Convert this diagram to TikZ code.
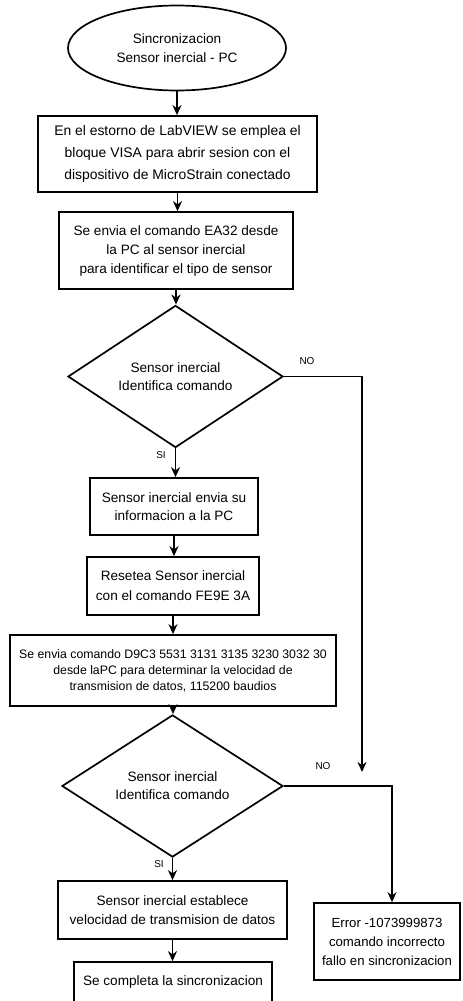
\documentclass[tikz,border=0pt]{standalone}
\usepackage{fontspec}
\setmainfont{Liberation Sans}
\usetikzlibrary{shapes.geometric,arrows.meta,calc}
\begin{document}
\begin{tikzpicture}[x=1pt,y=-1pt,
  every node/.style={font=\fontsize{13.6}{19}\selectfont, align=center},
  proc/.style={draw, line width=1.7pt, rectangle, inner sep=0pt},
  term/.style={draw, line width=1.7pt, ellipse, inner sep=0pt},
  decis/.style={draw, line width=1.7pt, diamond, inner sep=0pt},
  conn/.style={line width=1.7pt, -{Stealth[length=10pt,width=9pt]}},
  lbl/.style={font=\fontsize{10}{11}\selectfont, inner sep=0pt}]
\useasboundingbox (0,0) rectangle (463,1001);
\clip (0,0) rectangle (463,1001);
\node[term, minimum width=218pt, minimum height=85pt] (start) at (177,48) {Sincronizacion\\Sensor inercial - PC};
\node[proc, minimum width=279pt, minimum height=76pt, font=\fontsize{13.9}{22}\selectfont] (b1) at (177.5,154) {En el estorno de LabVIEW se emplea el\\bloque VISA para abrir sesion con el\\dispositivo de MicroStrain conectado};
\node[proc, minimum width=234pt, minimum height=77pt] (b2) at (176,250.5) {Se envia el comando EA32 desde\\la PC al sensor inercial\\para identificar el tipo de sensor};
\node[decis, minimum width=215pt, minimum height=129pt, font=\fontsize{13.6}{18}\selectfont] (d1) at (175.5,376.5) {Sensor inercial\\Identifica comando};
\node[proc, minimum width=168pt, minimum height=57pt, font=\fontsize{13.6}{18}\selectfont] (b3) at (174,506.5) {Sensor inercial envia su\\informacion a la PC};
\node[proc, minimum width=172pt, minimum height=58pt, font=\fontsize{13.6}{20}\selectfont] (b4) at (173,586) {Resetea Sensor inercial\\con el comando FE9E 3A};
\node[proc, minimum width=326pt, minimum height=71pt, font=\fontsize{12.3}{16}\selectfont] (b5) at (173,670.5) {Se envia comando D9C3 5531 3131 3135 3230 3032 30\\desde laPC para determinar la velocidad de\\transmision de datos, 115200 baudios};
\node[decis, minimum width=221pt, minimum height=122pt, font=\fontsize{13.6}{18}\selectfont] (d2) at (172.5,786) {Sensor inercial\\Identifica comando};
\node[proc, minimum width=229pt, minimum height=58pt] (b6) at (172.5,910) {Sensor inercial establece\\velocidad de transmision de datos};
\node[proc, minimum width=198pt, minimum height=40pt] (b7) at (173,982) {Se completa la sincronizacion};
\node[proc, minimum width=146pt, minimum height=77pt, font=\fontsize{13.2}{19}\selectfont] (err) at (387,941.5) {Error -1073999873\\comando incorrecto\\fallo en sincronizacion};
\coordinate (n1) at (362,772);
\draw[conn] (start.south) -- (start.south |- b1.north);
\draw[conn] (b1.south) -- (b1.south |- b2.north);
\draw[conn] (b2.south) -- (b2.south |- d1.north);
\draw[conn] (d1.south) -- (d1.south |- b3.north);
\draw[conn] (b3.south) -- (b3.south |- b4.north);
\draw[conn] (b4.south) -- (b4.south |- b5.north);
\draw[conn] (b5.south) -- (b5.south |- d2.north);
\draw[conn] (d2.south) -- (d2.south |- b6.north);
\draw[conn] (b6.south) -- (b6.south |- b7.north);
\draw[conn] (d1.east) -| (n1);
\draw[conn] (d2.east) -| ([xshift=5pt]err.north);
\node[lbl] (no1) at (307,361) {NO};
\node[lbl] (no2) at (323,766) {NO};
\node[lbl] (si1) at (161,455) {SI};
\node[lbl] (si2) at (159,864) {SI};
\end{tikzpicture}
\end{document}
